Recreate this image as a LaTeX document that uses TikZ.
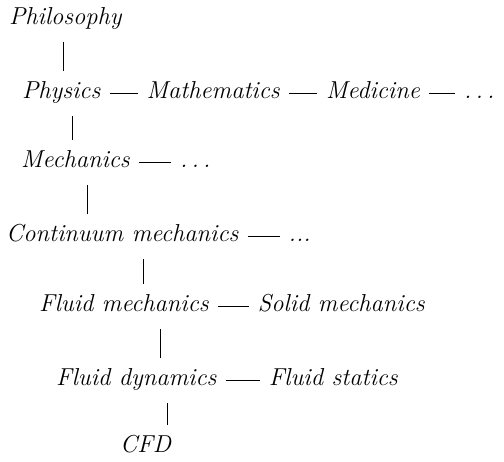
\documentclass[tikz,border=0pt]{standalone}
\usepackage{tikz}
\usetikzlibrary{positioning}
\newcommand\spacedots{.\kern0.17em.\kern0.17em.}
\tikzset{
  term/.style={font=\fontsize{24.5}{28}\selectfont\itshape,inner sep=0pt,text height=18pt,text depth=6pt,anchor=base west},
  hlink/.style={line width=0.9pt,shorten <=9pt,shorten >=9pt},
  vlink/.style={line width=0.9pt,shorten <=11pt,shorten >=10pt},
}

\begin{document}
\begin{tikzpicture}[x=1pt,y=-1pt]
    \useasboundingbox (0,0) rectangle (504,462);
    % main branch, one term per row
    \node[term] (phil)  at (9,25)   {Philosophy};
    \node[term] (phys)  at (22,99)  {Physics};
    \node[term] (mech)  at (21,168) {Mechanics};
    \node[term] (cont)  at (6,242)  {Continuum mechanics};
    \node[term] (fmech) at (39,312) {Fluid mechanics};
    \node[term] (fdyn)  at (56,386) {Fluid dynamics};
    \node[term] (cfd)   at (120,453) {CFD};
    % side branches
    \node[term,right=46pt of phys]  (math)  {Mathematics};
    \node[term,right=46pt of math]  (med)   {Medicine};
    \node[term,right=44pt of med]   (dotsA) {\spacedots};
    \node[term,right=50pt of mech]  (dotsB) {\spacedots};
    \node[term,right=50pt of cont]  (dotsC) {...};
    \node[term,right=49pt of fmech] (solid) {Solid mechanics};
    \node[term,right=52pt of fdyn]  (fstat) {Fluid statics};
    \foreach \a/\b in {phys/math,math/med,med/dotsA,mech/dotsB,cont/dotsC,fmech/solid,fdyn/fstat}{
      \draw[hlink] (\a) -- (\b);}
    \foreach \a/\b/\x in {phil/phys/63,phys/mech/72,mech/cont/87,cont/fmech/143,fmech/fdyn/160,fdyn/cfd/167}{
      \draw[vlink] (\x,0 |- \a.south) -- (\x,0 |- \b.north);}
\end{tikzpicture}
\end{document}
